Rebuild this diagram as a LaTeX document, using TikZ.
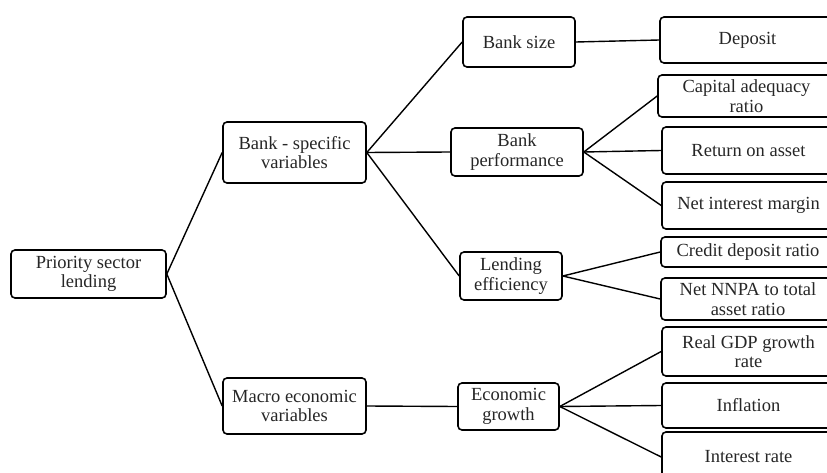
\documentclass[tikz,border=0pt]{standalone}
\usepackage{fontspec}
\setmainfont{Liberation Serif}
\newfontfamily\tnrfont{Liberation Serif}
\begin{document}
\begin{tikzpicture}[x=1pt,y=-1pt,
  box/.style={draw=black, line width=1.6pt, rounded corners=4pt, align=center, inner sep=0pt,
    font=\tnrfont\fontsize{18.5pt}{19.5pt}\selectfont, text=black!85},
  link/.style={draw=black, line width=1.4pt}]
\useasboundingbox (0,0) rectangle (827,473);
\newcommand{\bx}[6]{\node[box, minimum width=#4pt, minimum height=#5pt] (#1) at (#2,#3) {#6};}
\bx{psl}{88.5}{274}{155}{48}{Priority sector\\lending}
\bx{bsv}{294.5}{152.5}{143}{61}{Bank - specific\\variables}
\bx{mev}{294.5}{406}{143}{56}{Macro economic\\variables}
\bx{bsize}{519}{42}{112}{50}{Bank size}
\bx{bperf}{517}{152}{132}{48}{Bank\\performance}
\bx{leff}{511}{276}{102}{48}{Lending\\efficiency}
\bx{egrow}{508.5}{406.5}{101}{47}{Economic\\growth}
\bx{dep}{747.5}{40}{175}{46}{Deposit}
\bx{car}{746.5}{96}{177}{42}{Capital adequacy\\ratio}
\bx{roa}{748.5}{150.5}{173}{47}{Return on asset}
\bx{nim}{748.5}{205.5}{173}{47}{Net interest margin}
\bx{cdr}{748}{252}{174}{30}{Credit deposit ratio}
\bx{nnpa}{748}{299}{174}{42}{Net NNPA to total\\asset ratio}
\bx{gdp}{748.5}{351.5}{173}{49}{Real GDP growth\\rate}
\bx{inf}{748.5}{405.5}{173}{45}{Inflation}
\bx{ir}{748.5}{457}{173}{50}{Interest rate}
\draw[link] (psl.east) -- (bsv.west);
\draw[link] (psl.east) -- (mev.west);
\draw[link] (bsv.east) -- (bsize.west);
\draw[link] (bsv.east) -- (bperf.west);
\draw[link] (bsv.east) -- (leff.west);
\draw[link] (mev.east) -- (egrow.west);
\draw[link] (bsize.east) -- (dep.west);
\draw[link] (bperf.east) -- (car.west);
\draw[link] (bperf.east) -- (roa.west);
\draw[link] (bperf.east) -- (nim.west);
\draw[link] (leff.east) -- (cdr.west);
\draw[link] (leff.east) -- (nnpa.west);
\draw[link] (egrow.east) -- (gdp.west);
\draw[link] (egrow.east) -- (inf.west);
\draw[link] (egrow.east) -- (ir.west);
\end{tikzpicture}
\end{document}
